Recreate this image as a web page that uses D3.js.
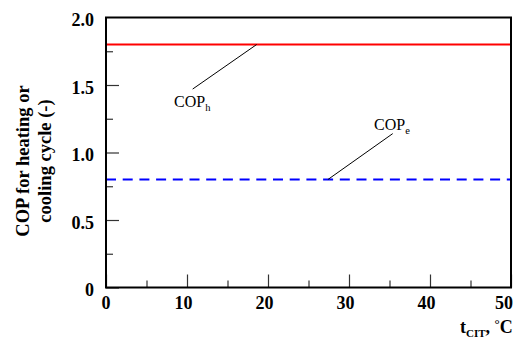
<!DOCTYPE html>
<html>
<head>
<meta charset="utf-8">
<script src="https://cdn.jsdelivr.net/npm/d3@7"></script>
<style>
  html, body { margin: 0; padding: 0; background: #fff; }
</style>
</head>
<body>
<svg id="chart" width="518" height="338"></svg>
<script>
// Condenser inlet temperature (°C) and the COP of each cycle
const tCIT = [0, 10, 20, 30, 40, 50];
const copHeating = [1.8, 1.8, 1.8, 1.8, 1.8, 1.8];
const copCooling = [0.8, 0.8, 0.8, 0.8, 0.8, 0.8];

const xMajorTicks = [0, 10, 20, 30, 40, 50];
const xMinorTicks = [5, 15, 25, 35, 45];
const yMajorTicks = [0, 0.5, 1.0, 1.5, 2.0];
const yMinorTicks = [0.25, 0.75, 1.25, 1.75];
const yTickLabels = ["0", "0.5", "1.0", "1.5", "2.0"];

// Callouts: label anchor and leader line ends, in data units
const calloutH = { sub: "h", at: [8.4, 1.34], from: [10.7, 1.47], to: [18.6, 1.8] };
const calloutE = { sub: "e", at: [33.1, 1.167], from: [35.4, 1.14], to: [27.4, 0.8] };

const FONT = "Liberation Serif";
const svg = d3.select("#chart").attr("font-family", FONT);
const m = { left: 106, top: 17.5, right: 511, bottom: 287.5 };
const W = 518;

const x = d3.scaleLinear().domain([0, 50]).range([m.left, m.right]);
const y = d3.scaleLinear().domain([0, 2]).range([m.bottom, m.top]);

// Inward ticks on the bottom and left axes
const tickCol = "#333";
const bottomMajor = d3.axisBottom(x).tickValues(xMajorTicks).tickSizeInner(-13).tickSizeOuter(0).tickFormat("");
const bottomMinor = d3.axisBottom(x).tickValues(xMinorTicks).tickSizeInner(-7).tickSizeOuter(0).tickFormat("");
const leftMajor = d3.axisLeft(y).tickValues(yMajorTicks.slice(0, 4)).tickSizeInner(-13).tickSizeOuter(0).tickFormat("");
const leftMinor = d3.axisLeft(y).tickValues(yMinorTicks).tickSizeInner(-7).tickSizeOuter(0).tickFormat("");

[[bottomMajor, `translate(0,${m.bottom})`], [bottomMinor, `translate(0,${m.bottom})`],
 [leftMajor, `translate(${m.left},0)`], [leftMinor, `translate(${m.left},0)`]].forEach(([ax, tr]) => {
  const g = svg.append("g").attr("transform", tr).call(ax);
  g.select(".domain").remove();
  g.selectAll(".tick line").attr("stroke", tickCol).attr("stroke-width", 1.2);
});

// Tick labels (the last one is kept inside the page edge)
svg.append("g").selectAll("text").data(xMajorTicks).join("text")
  .attr("font-family", FONT)
  .attr("x", (d, i) => i === xMajorTicks.length - 1 ? W - 5 : x(d) - (d > 0 ? 3.5 : 0))
  .attr("y", m.bottom + 21.5)
  .attr("text-anchor", (d, i) => i === xMajorTicks.length - 1 ? "end" : "middle")
  .attr("font-size", 18).attr("font-weight", "bold")
  .text(d => d);

svg.append("g").selectAll("text").data(yMajorTicks).join("text")
  .attr("font-family", FONT)
  .attr("x", m.left - 12).attr("y", d => y(d) + 8.5)
  .attr("text-anchor", "end").attr("font-size", 18).attr("font-weight", "bold")
  .text((d, i) => yTickLabels[i]);

// Series
const line = d3.line().x((d, i) => x(tCIT[i])).y(d => y(d));

svg.append("path").datum(copHeating)
  .attr("d", line).attr("fill", "none").attr("stroke", "#ff0000").attr("stroke-width", 2.2);

svg.append("path").datum(copCooling)
  .attr("d", line).attr("fill", "none").attr("stroke", "#0000ff").attr("stroke-width", 2.2)
  .attr("stroke-dasharray", "10,6.7");

// Frame
svg.append("rect")
  .attr("x", m.left).attr("y", m.top)
  .attr("width", m.right - m.left).attr("height", m.bottom - m.top)
  .attr("fill", "none").attr("stroke", "#000").attr("stroke-width", 2);

// Callouts
[calloutH, calloutE].forEach(c => {
  svg.append("line")
    .attr("x1", x(c.from[0])).attr("y1", y(c.from[1]))
    .attr("x2", x(c.to[0])).attr("y2", y(c.to[1]))
    .attr("stroke", "#000").attr("stroke-width", 1);
  const t = svg.append("text")
    .attr("font-family", FONT)
    .attr("x", x(c.at[0])).attr("y", y(c.at[1]))
    .attr("font-size", 16);
  t.append("tspan").text("COP");
  t.append("tspan").attr("dy", 4).attr("font-size", 10.5).text(c.sub);
});

// Axis titles
const yt = svg.append("text")
  .attr("font-family", FONT)
  .attr("transform", "translate(0,161) rotate(-90)")
  .attr("text-anchor", "middle").attr("font-size", 18.5).attr("font-weight", "bold");
yt.append("tspan").attr("x", 0).attr("y", 28.5).text("COP for heating or");
yt.append("tspan").attr("x", 0).attr("y", 51).text("cooling cycle (-)");

const xt = svg.append("text")
  .attr("font-family", FONT)
  .attr("x", 460).attr("y", 333)
  .attr("font-size", 18).attr("font-weight", "bold");
xt.append("tspan").text("t");
xt.append("tspan").attr("dy", 4).attr("font-size", 11).text("CIT");
xt.append("tspan").attr("dy", -4).text(", ");
xt.append("tspan").attr("dy", -5).attr("font-size", 13).text("°");
xt.append("tspan").attr("dy", 5).text("C");
</script>
</body>
</html>
